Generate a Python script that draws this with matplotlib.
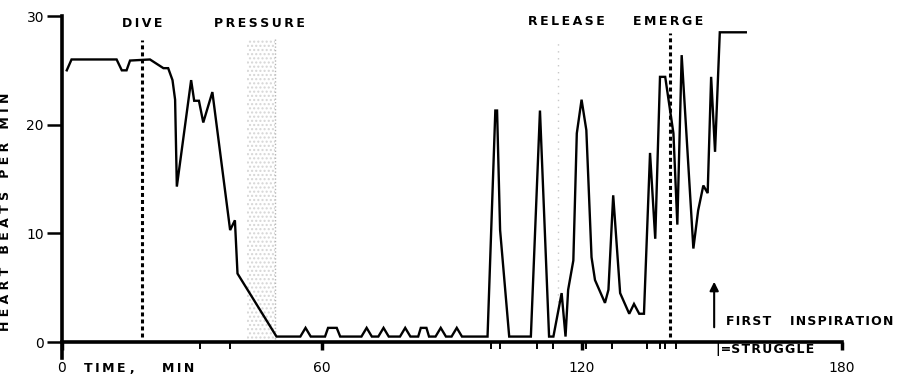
import matplotlib
matplotlib.use("Agg")
import matplotlib.pyplot as plt

# heart rate trace (minutes, beats per min)
time_min = [1.1, 2.2, 12.6, 13.8, 14.9, 15.7, 20.3, 23.4, 24.5, 25.5, 26.1, 26.5,
            29.8, 30.5, 31.6, 32.6, 34.7, 38.8, 39.9, 40.5, 49.5,
            55.0, 56.2, 57.4, 60.7, 61.4, 63.4, 64.2,
            69.1, 70.3, 71.5, 73.0, 74.2, 75.4, 78.0, 79.2, 80.4,
            82.2, 82.8, 84.1, 84.7, 86.2, 87.4, 88.6, 89.9, 91.1, 92.3,
            98.2, 100.0, 100.4, 101.1, 103.2, 108.2, 110.3, 112.4, 113.4,
            115.3, 116.2, 116.8, 118.0, 118.8, 119.9, 121.0, 122.2, 123.0,
            125.3, 126.1, 127.2, 128.8, 130.9, 132.0, 133.2, 134.3, 135.7,
            136.9, 138.0, 139.2, 141.1, 142.0, 143.0, 145.7, 146.8, 148.0,
            149.0, 149.8, 150.7, 151.8, 157.8]
heart_rate = [25.0, 26.0, 26.0, 25.0, 25.0, 25.9, 26.0, 25.2, 25.2, 24.1, 22.3, 14.3,
              24.1, 22.2, 22.2, 20.2, 23.0, 10.3, 11.2, 6.3, 0.5,
              0.5, 1.3, 0.5, 0.5, 1.3, 1.3, 0.5,
              0.5, 1.3, 0.5, 0.5, 1.3, 0.5, 0.5, 1.3, 0.5,
              0.5, 1.3, 1.3, 0.5, 0.5, 1.3, 0.5, 0.5, 1.3, 0.5,
              0.5, 21.3, 21.3, 10.3, 0.5, 0.5, 21.3, 0.5, 0.5,
              4.5, 0.5, 4.8, 7.5, 19.2, 22.3, 19.5, 7.8, 5.7,
              3.6, 4.8, 13.5, 4.5, 2.6, 3.5, 2.6, 2.6, 17.4,
              9.5, 24.4, 24.4, 19.2, 10.8, 26.4, 8.6, 12.1, 14.4,
              13.7, 24.4, 17.5, 28.5, 28.5]

struggle_times = [31.8, 38.8, 98.9, 101.0, 109.5, 113.4, 121.0, 127.0,
                  134.9, 138.0, 139.2, 141.8]
dive_t, emerge_t = 18.4, 140.2
pressure_span = (42.6, 49.2)
release_t = 114.5
first_inspiration_t = 150.5
x_ticks = [0, 60, 120, 180]
y_ticks = [0, 10, 20, 30]

FONT = "DejaVu Sans"


def spaced(s, sep="\u2009"):
    return sep.join(s)


fig = plt.figure(figsize=(9.01, 3.79), dpi=100)
ax = fig.add_axes([62 / 901, 37 / 379, 780 / 901, 326 / 379])
ax.set_xlim(0, 180)
ax.set_ylim(0, 30)

# event markers
ax.axvspan(*pressure_span, ymin=0, ymax=0.93, facecolor="none",
           edgecolor="#d6d6d6", hatch="....", linewidth=0)
ax.vlines(pressure_span[1], 0.3, 28, colors="#b5b5b5", linestyles=(0, (1, 1.5)), lw=1)
ax.vlines(release_t, 3, 27.5, colors="#c8c8c8", linestyles=(0, (1, 4)), lw=1)
ax.vlines([dive_t, emerge_t], 0.5, [27.8, 28.4], colors="black",
          linestyles=(0, (1.3, 1.0)), lw=2.2)

# trace
ax.plot(time_min, heart_rate, color="black", lw=1.7, solid_joinstyle="miter")

# first inspiration arrow
ax.annotate("", xy=(first_inspiration_t, 5.8), xytext=(first_inspiration_t, 1.1),
            arrowprops=dict(arrowstyle="-|>", color="black", lw=1.5,
                            mutation_scale=13))

# axes styling
for s in ["top", "right"]:
    ax.spines[s].set_visible(False)
ax.spines["left"].set_linewidth(2.6)
ax.spines["bottom"].set_linewidth(2.6)
ax.spines["left"].set_bounds(-1.5, 30)
ax.spines["bottom"].set_bounds(0, 180)

ax.set_yticks(y_ticks)
ax.set_yticklabels([str(v) for v in y_ticks], fontsize=10, family=FONT)
ax.tick_params(axis="y", direction="out", length=11, width=1.8, pad=2)

ax.set_xticks(x_ticks)
ax.set_xticklabels([str(v) for v in x_ticks], fontsize=10, family=FONT)
ax.tick_params(axis="x", which="major", direction="out", length=6, width=2.5, pad=8)
ax.set_xticks(struggle_times, minor=True)
ax.tick_params(axis="x", which="minor", direction="out", length=5, width=1.4)

ax.text(5, -2.45, spaced("TIME") + " ,", fontsize=9, family=FONT, fontweight="bold",
        va="center", ha="left", clip_on=False)
ax.text(23, -2.45, spaced("MIN"), fontsize=9, family=FONT, fontweight="bold",
        va="center", ha="left", clip_on=False)

ylab = "   ".join(spaced(w, " ") for w in ["HEART", "BEATS", "PER", "MIN"])
ax.set_ylabel(ylab, fontsize=9, family=FONT, fontweight="bold")
ax.yaxis.set_label_coords(-0.064, 0.40)

# event labels
for label, x, y in [("DIVE", dive_t, 29.3), ("PRESSURE", 45.5, 29.3),
                    ("RELEASE", 116.5, 29.5), ("EMERGE", 139.8, 29.5)]:
    ax.text(x, y, spaced(label), fontsize=9, family=FONT, fontweight="bold",
            ha="center", va="center", clip_on=False)

ax.text(153.2, 1.9, spaced("FIRST", "\u200a") + "\u2003\u2002" + spaced("INSPIRATION", "\u200a"),
        fontsize=9, family=FONT, fontweight="bold", ha="left", va="center")
ax.text(150.9, -0.7, "|=" + spaced("STRUGGLE", "\u200a"), fontsize=9, family=FONT,
        fontweight="bold", ha="left", va="center", clip_on=False)

fig.savefig("out.png", dpi=100)
